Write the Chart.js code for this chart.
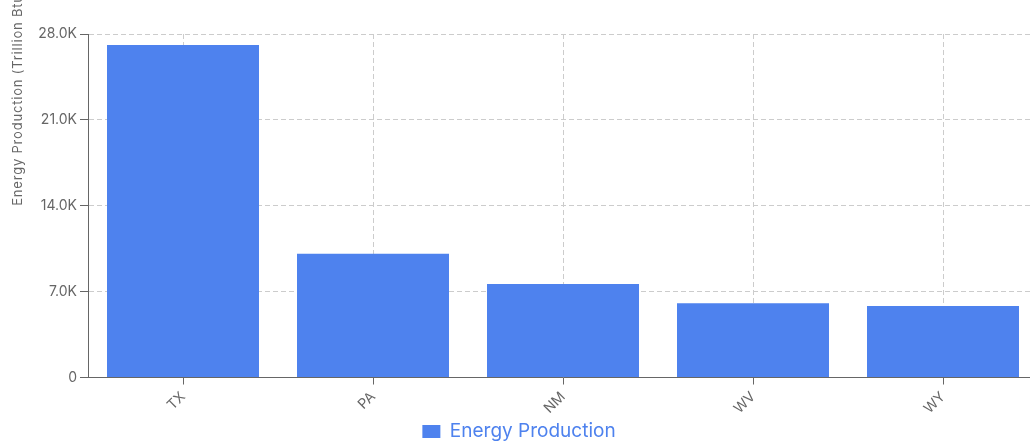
<!DOCTYPE html>
<html>
<head>
<meta charset="utf-8">
<script src="https://cdn.jsdelivr.net/npm/chart.js@4/dist/chart.umd.min.js"></script>
<style>
  html, body { margin: 0; padding: 0; background: #fff; overflow: hidden; }
  #wrap { position: relative; width: 1038px; height: 451px; }
</style>
</head>
<body>
<div id="wrap"><canvas id="chart"></canvas></div>
<script>
// Top energy-producing states
const states = ['TX', 'PA', 'NM', 'WV', 'WY'];
const production = [27100, 10080, 7630, 6050, 5830];
const yTickValues = [0, 7000, 14000, 21000, 28000];
const seriesLabel = 'Energy Production';
const yAxisTitle = 'Energy Production (Trillion Btu)';

const FONT = 'Inter, "Helvetica Neue", Arial, "Liberation Sans", sans-serif';
const BAR = '#4e82ee';
const GRID = '#cccccc';
const AXIS = '#666666';

function formatK(v) {
  return v === 0 ? '0' : (v / 1000).toFixed(1) + 'K';
}

// Rotated y-axis caption, starting at the vertical middle of the plot
const yCaption = {
  id: 'yCaption',
  afterDraw(chart) {
    const { ctx, chartArea } = chart;
    const mid = chartArea.top + (chartArea.bottom - chartArea.top) / 2;
    ctx.save();
    ctx.translate(22, mid);
    ctx.rotate(-Math.PI / 2);
    ctx.font = '13px ' + FONT;
    ctx.letterSpacing = '0.8px';
    ctx.fillStyle = AXIS;
    ctx.textAlign = 'left';
    ctx.textBaseline = 'alphabetic';
    ctx.fillText(yAxisTitle, 0, 0);
    ctx.restore();
  }
};

new Chart(document.getElementById('chart'), {
  type: 'bar',
  data: {
    labels: states,
    datasets: [{
      label: seriesLabel,
      data: production,
      backgroundColor: BAR,
      borderWidth: 0,
      categoryPercentage: 0.8,
      barPercentage: 1.0
    }]
  },
  options: {
    responsive: true,
    maintainAspectRatio: false,
    animation: false,
    layout: { padding: { top: 34, left: 0, right: 0, bottom: 0 } },
    plugins: {
      legend: {
        position: 'bottom',
        labels: {
          color: BAR,
          font: { size: 19, family: FONT },
          boxWidth: 18,
          boxHeight: 13,
          padding: 1
        }
      },
      tooltip: { enabled: false }
    },
    scales: {
      x: {
        offset: true,
        grid: {
          offset: false,
          color: GRID,
          tickColor: AXIS,
          tickLength: 7,
          tickBorderDash: [],
          drawTicks: true
        },
        border: { display: true, color: AXIS, width: 1, dash: [5, 3] },
        ticks: {
          color: AXIS,
          font: { size: 14, family: FONT },
          minRotation: 45,
          maxRotation: 45,
          padding: 4
        }
      },
      y: {
        min: 0,
        max: 28000,
        afterBuildTicks(scale) {
          scale.ticks = yTickValues.map(v => ({ value: v }));
        },
        afterFit(scale) { scale.width = 88; },
        grid: {
          color: GRID,
          tickColor: AXIS,
          tickLength: 8,
          tickBorderDash: []
        },
        border: { display: true, color: AXIS, width: 1, dash: [5, 3] },
        ticks: {
          color: AXIS,
          font: { size: 14, family: FONT },
          padding: 3,
          callback: v => formatK(v)
        }
      }
    }
  },
  plugins: [yCaption]
});
</script>
</body>
</html>
